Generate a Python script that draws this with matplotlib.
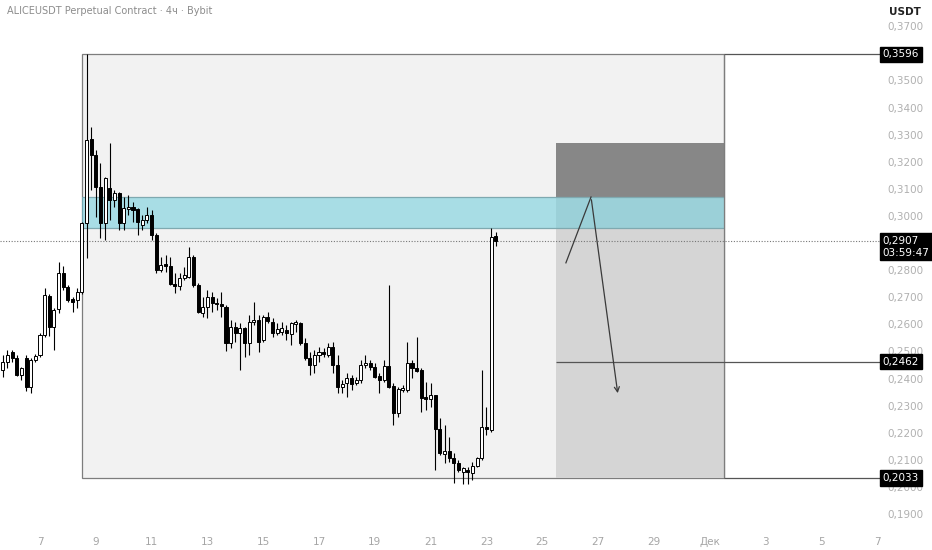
import matplotlib
matplotlib.use('Agg')
import matplotlib.pyplot as plt
from matplotlib.patches import Rectangle

# first 4h candle: Nov 5, 16:00 (x axis is day of November)
start_day = 5 + 16 / 24

opens = [0.2432, 0.2461, 0.2498, 0.2476, 0.2413, 0.2476, 0.2369, 0.2469, 0.2487, 0.2561,
	0.2705, 0.2590, 0.2657, 0.2790, 0.2738, 0.2694, 0.2690, 0.2720, 0.2974, 0.3284,
	0.3225, 0.3107, 0.2974, 0.3103, 0.3059, 0.3085, 0.2974, 0.3026, 0.3033, 0.3026,
	0.2967, 0.2985, 0.3004, 0.2930, 0.2801, 0.2823, 0.2816, 0.2749, 0.2742, 0.2771,
	0.2775, 0.2849, 0.2745, 0.2642, 0.2664, 0.2701, 0.2679, 0.2675, 0.2664, 0.2531,
	0.2590, 0.2568, 0.2587, 0.2531, 0.2609, 0.2616, 0.2542, 0.2627, 0.2609, 0.2568,
	0.2572, 0.2579, 0.2565, 0.2601, 0.2605, 0.2531, 0.2476, 0.2450, 0.2487, 0.2498,
	0.2487, 0.2517, 0.2450, 0.2369, 0.2384, 0.2402, 0.2384, 0.2395, 0.2450, 0.2458,
	0.2443, 0.2410, 0.2395, 0.2447, 0.2373, 0.2273, 0.2358, 0.2358, 0.2458, 0.2439,
	0.2432, 0.2332, 0.2325, 0.2339, 0.2214, 0.2122, 0.2133, 0.2107, 0.2089, 0.2055,
	0.2063, 0.2052, 0.2078, 0.2107, 0.2221, 0.2210, 0.2926]

highs = [0.2487, 0.2506, 0.2506, 0.2487, 0.2443, 0.2487, 0.2476, 0.2491, 0.2568, 0.2734,
	0.2712, 0.2661, 0.2830, 0.2816, 0.2745, 0.2701, 0.2734, 0.2978, 0.3596, 0.3328,
	0.3244, 0.3196, 0.3144, 0.3269, 0.3096, 0.3089, 0.3070, 0.3077, 0.3052, 0.3030,
	0.3004, 0.3033, 0.3022, 0.2937, 0.2849, 0.2856, 0.2849, 0.2790, 0.2790, 0.2812,
	0.2886, 0.2856, 0.2753, 0.2701, 0.2727, 0.2720, 0.2697, 0.2720, 0.2672, 0.2616,
	0.2609, 0.2605, 0.2590, 0.2635, 0.2683, 0.2635, 0.2635, 0.2646, 0.2624, 0.2605,
	0.2609, 0.2598, 0.2609, 0.2616, 0.2609, 0.2550, 0.2498, 0.2506, 0.2517, 0.2513,
	0.2531, 0.2535, 0.2487, 0.2395, 0.2421, 0.2413, 0.2406, 0.2469, 0.2487, 0.2469,
	0.2458, 0.2421, 0.2469, 0.2745, 0.2384, 0.2369, 0.2376, 0.2535, 0.2469, 0.2554,
	0.2439, 0.2387, 0.2384, 0.2339, 0.2255, 0.2229, 0.2185, 0.2125, 0.2100, 0.2074,
	0.2074, 0.2092, 0.2111, 0.2432, 0.2295, 0.2956, 0.2941]

lows = [0.2406, 0.2439, 0.2461, 0.2410, 0.2395, 0.2354, 0.2347, 0.2461, 0.2480, 0.2554,
	0.2557, 0.2506, 0.2642, 0.2727, 0.2683, 0.2646, 0.2661, 0.2712, 0.2845, 0.3096,
	0.2996, 0.2919, 0.2911, 0.2985, 0.3033, 0.2948, 0.2948, 0.3004, 0.2978, 0.2930,
	0.2948, 0.2974, 0.2911, 0.2790, 0.2793, 0.2793, 0.2745, 0.2716, 0.2727, 0.2764,
	0.2771, 0.2738, 0.2642, 0.2627, 0.2624, 0.2646, 0.2653, 0.2627, 0.2502, 0.2513,
	0.2535, 0.2432, 0.2480, 0.2487, 0.2598, 0.2498, 0.2535, 0.2605, 0.2554, 0.2561,
	0.2561, 0.2542, 0.2524, 0.2572, 0.2524, 0.2469, 0.2413, 0.2421, 0.2461, 0.2480,
	0.2480, 0.2421, 0.2347, 0.2347, 0.2332, 0.2358, 0.2376, 0.2384, 0.2439, 0.2432,
	0.2402, 0.2347, 0.2387, 0.2365, 0.2229, 0.2258, 0.2351, 0.2351, 0.2402, 0.2424,
	0.2277, 0.2284, 0.2295, 0.2063, 0.2118, 0.2089, 0.2092, 0.2015, 0.2055, 0.2011,
	0.2011, 0.2026, 0.2074, 0.2100, 0.2192, 0.2203, 0.2889]

closes = [0.2461, 0.2487, 0.2476, 0.2413, 0.2439, 0.2369, 0.2469, 0.2483, 0.2561, 0.2708,
	0.2590, 0.2653, 0.2790, 0.2738, 0.2690, 0.2683, 0.2720, 0.2974, 0.3280, 0.3225,
	0.3107, 0.2974, 0.3140, 0.3059, 0.3085, 0.2974, 0.3030, 0.3033, 0.3022, 0.2978,
	0.2985, 0.3004, 0.2930, 0.2801, 0.2819, 0.2816, 0.2749, 0.2742, 0.2771, 0.2782,
	0.2849, 0.2745, 0.2646, 0.2664, 0.2701, 0.2679, 0.2675, 0.2668, 0.2531, 0.2590,
	0.2568, 0.2587, 0.2531, 0.2609, 0.2616, 0.2535, 0.2627, 0.2613, 0.2568, 0.2583,
	0.2587, 0.2568, 0.2605, 0.2609, 0.2531, 0.2476, 0.2450, 0.2487, 0.2498, 0.2491,
	0.2517, 0.2450, 0.2369, 0.2380, 0.2402, 0.2380, 0.2395, 0.2450, 0.2458, 0.2443,
	0.2406, 0.2395, 0.2447, 0.2369, 0.2273, 0.2362, 0.2365, 0.2458, 0.2439, 0.2428,
	0.2328, 0.2325, 0.2339, 0.2214, 0.2125, 0.2133, 0.2107, 0.2089, 0.2063, 0.2070,
	0.2055, 0.2078, 0.2107, 0.2221, 0.2214, 0.2923, 0.2907]

# drawings
box_top = 0.3596
box_bottom = 0.2033
zone_top = 0.3070
zone_bottom = 0.2956
stop_level = 0.3269
entry_level = 0.3070
target_level = 0.2462
last_price = 0.2907
box_start = 8.5
box_end = 31.5
position_start = 25.5
path_x = [25.85, 26.75, 27.72]
path_y = [0.2827, 0.3070, 0.2336]

x_ticks = [7, 9, 11, 13, 15, 17, 19, 21, 23, 25, 27, 29, 31, 33, 35, 37]
x_labels = ['7', '9', '11', '13', '15', '17', '19', '21', '23', '25', '27', '29', 'Дек', '3', '5', '7']
# 0,3600 and 0,2900 are covered by the price tags
y_ticks = [0.19, 0.20, 0.21, 0.22, 0.23, 0.24, 0.25, 0.26, 0.27, 0.28, 0.30,
	0.31, 0.32, 0.33, 0.34, 0.35, 0.37]


def price_label(ax, y, text, dy=0):
	ax.annotate(text, xy=(1.0, y), xycoords=ax.get_yaxis_transform(),
		xytext=(2, dy), textcoords='offset points', ha='left', va='center',
		fontsize=7.5, color='white', annotation_clip=False, zorder=10,
		bbox=dict(boxstyle='square,pad=0.25', fc='black', ec='black'))


def main():
	fig = plt.figure(figsize=(9.32, 5.5), dpi=100)
	ax = fig.add_axes([0, 20 / 550, 880 / 932, 530 / 550])
	ax.set_xlim(5.566, 37.108)
	ax.set_ylim(0.1841, 0.3797)

	# zone box
	ax.add_patch(Rectangle((box_start, box_bottom), box_end - box_start, box_top - box_bottom,
		fc='#f2f2f2', ec='#7d7d7d', lw=0.9, zorder=1))
	# short position
	ax.add_patch(Rectangle((position_start, entry_level), box_end - position_start,
		stop_level - entry_level, fc='#878787', ec='none', zorder=1.2))
	ax.add_patch(Rectangle((position_start, box_bottom), box_end - position_start,
		entry_level - box_bottom, fc='#d5d5d5', ec='none', zorder=1.2))
	ax.add_patch(Rectangle((box_start, zone_bottom), box_end - box_start, zone_top - zone_bottom,
		fc='#6cccdc', alpha=0.55, ec='none', zorder=1.5))
	ax.hlines([zone_top, zone_bottom], box_start, box_end, colors='#7fa9b0', lw=0.9, zorder=1.6)
	ax.vlines(box_end, box_bottom, box_top, colors='#7d7d7d', lw=0.9, zorder=1.7)

	ax.hlines([box_top, box_bottom], box_end, 37.108, colors='#555555', lw=0.9, zorder=1.7)
	ax.hlines(target_level, position_start, 37.108, colors='#555555', lw=0.9, zorder=1.7)
	ax.axhline(last_price, color='#777777', lw=0.8, ls=(0, (1, 1.5)), zorder=1.8)

	# candles
	w = 0.11
	for i in range(len(opens)):
		t = start_day + i / 6
		o, h, l, c = opens[i], highs[i], lows[i], closes[i]
		ax.vlines(t, l, h, colors='black', lw=0.8, zorder=2)
		if c >= o:
			ax.add_patch(Rectangle((t - w / 2, o), w, max(c - o, 0.0003),
				fc='white', ec='black', lw=0.7, zorder=3))
		else:
			ax.add_patch(Rectangle((t - w / 2, c), w, max(o - c, 0.0003),
				fc='black', ec='black', lw=0.7, zorder=3))

	# projected path
	ax.plot(path_x[:2], path_y[:2], color='#3a3a3a', lw=0.9, zorder=4)
	ax.annotate('', xy=(path_x[2], path_y[2]), xytext=(path_x[1], path_y[1]),
		arrowprops=dict(arrowstyle='->,head_length=0.35,head_width=0.18', color='#3a3a3a', lw=0.9),
		zorder=4)

	for s in ax.spines.values():
		s.set_visible(False)
	ax.set_xticks(x_ticks)
	ax.set_xticklabels(x_labels)
	ax.set_yticks(y_ticks)
	ax.set_yticklabels([('%.4f' % v).replace('.', ',') for v in y_ticks])
	ax.yaxis.tick_right()
	ax.tick_params(axis='x', length=0, pad=5, labelsize=7.5, labelcolor='#a5a5a5')
	ax.tick_params(axis='y', length=0, pad=5, labelsize=7.5, labelcolor='#b0b0b0')

	price_label(ax, box_top, '0,3596')
	price_label(ax, last_price, '0,2907\n03:59:47', dy=-4)
	price_label(ax, target_level, '0,2462')
	price_label(ax, box_bottom, '0,2033')

	fig.text(7 / 932, 1 - 11 / 550, 'ALICEUSDT Perpetual Contract · 4ч · Bybit',
		fontsize=7, color='#8c8c8c', va='center', ha='left')
	fig.text(905 / 932, 1 - 12 / 550, 'USDT', fontsize=7.5, fontweight='semibold',
		color='#222222', va='center', ha='center')

	fig.savefig('out.png', dpi=100)


if __name__ == "__main__":
	main()
